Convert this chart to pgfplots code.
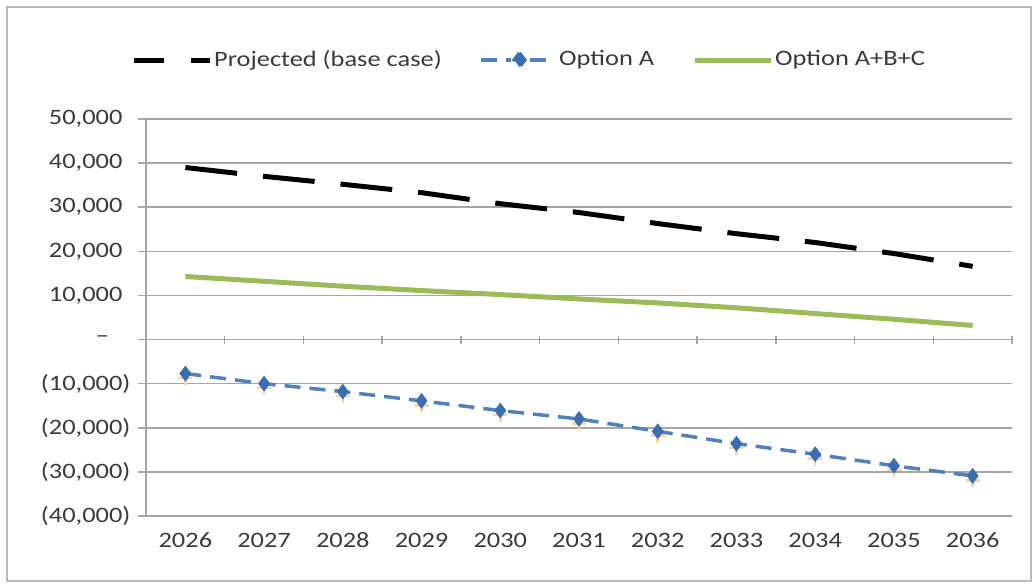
\documentclass[border=0pt]{standalone}
\usepackage{pgfplots}
\pgfplotsset{compat=1.18}
\usepackage{fontspec}
\setmainfont{Carlito}[FakeStretch=1.2]
\definecolor{gridgray}{HTML}{A6A6A6}
\definecolor{txt}{HTML}{3A3A3A}
\definecolor{optA}{HTML}{4F81BD}
\definecolor{optAdark}{HTML}{3A6EAE}
\definecolor{optC}{HTML}{9BBB59}
\definecolor{orng}{HTML}{F79646}
\begin{document}
\fontsize{22}{25}\selectfont
\begin{tikzpicture}
\path[use as bounding box] (0pt,0pt) rectangle (1034pt,584pt);
\draw[gridgray!80, line width=1.5pt] (7pt,3pt) rectangle (1031pt,577pt);
\begin{axis}[
  at={(146pt,68pt)}, anchor=south west,
  scale only axis, width=866pt, height=397pt,
  xmin=-0.5, xmax=10.5, ymin=-40000, ymax=50000,
  scaled y ticks=false,
  axis x line=middle, axis y line=left,
  axis line style={-, draw=gridgray, line width=1.5pt},
  xtick={-0.5,0.5,1.5,2.5,3.5,4.5,5.5,6.5,7.5,8.5,9.5,10.5},
  xticklabels={},
  extra x ticks={0,1,2,3,4,5,6,7,8,9,10},
  extra x tick labels={2026,2027,2028,2029,2030,2031,2032,2033,2034,2035,2036},
  extra x tick style={grid=none, major tick length=0pt},
  xticklabel style={anchor=base, yshift=-208pt},
  xtick style={draw=gridgray, line width=1.5pt},
  xtick align=center,
  ytick={-40000,-30000,-20000,-10000,0,10000,20000,30000,40000,50000},
  yticklabels={{(40,000)},{(30,000)},{(20,000)},{(10,000)},{–\hphantom{0)}},{10,000\hphantom{)}},{20,000\hphantom{)}},{30,000\hphantom{)}},{40,000\hphantom{)}},{50,000\hphantom{)}}},
  ytick align=outside,
  ytick style={draw=gridgray, line width=1.5pt},
  major tick length=8pt,
  ymajorgrids, xmajorgrids=false,
  grid style={gridgray, line width=1.5pt},
  tick label style={text=txt, font=\fontsize{22}{25}\selectfont},
  legend columns=3,
  legend style={at={(axis description cs:-0.0173,1.1486)}, anchor=west, draw=none, fill=none, inner sep=0pt,
    text=txt, font=\fontsize{22}{25}\selectfont,
    /tikz/every even column/.append style={column sep=36pt}},
  clip=false,
]
\addplot[only marks, mark=+, mark size=7pt, orng!45, line width=2.5pt, forget plot] coordinates {
(0,-8700) (1,-11000) (2,-12800) (3,-14900) (4,-17100) (5,-19000) (6,-21800) (7,-24600) (8,-27000) (9,-29600) (10,-31900)};
\addplot[black, line width=5pt, dash pattern=on 52pt off 26pt,
  legend image code/.code={\draw[black, line width=5pt] (0pt,0pt) -- (30pt,0pt) (57pt,0pt) -- (76pt,0pt);}]
  coordinates {(0,39000) (1,37000) (2,35200) (3,33300) (4,30800) (5,28800) (6,26300) (7,24000) (8,22000) (9,19500) (10,16600)};
\addlegendentry{Projected (base case)}
\addplot[optA, line width=3.5pt, dash pattern=on 16pt off 9pt, mark=diamond*, mark size=7.5pt,
  mark options={solid, fill=optAdark, draw=optAdark, line width=0.5pt},
  legend image code/.code={\draw[optA, line width=3.5pt] (0pt,0pt) -- (30pt,0pt) (49pt,0pt) -- (74pt,0pt);
    \path[mark=diamond*, mark size=7pt, mark options={fill=optAdark, draw=optAdark}] plot coordinates {(38pt,0pt)};}]
  coordinates {(0,-7700) (1,-10000) (2,-11800) (3,-13900) (4,-16100) (5,-18000) (6,-20800) (7,-23600) (8,-26000) (9,-28600) (10,-30900)};
\addlegendentry{Option A}
\addplot[optC, line width=5pt,
  legend image code/.code={\draw[optC, line width=5pt] (0pt,0pt) -- (76pt,0pt);}]
  coordinates {(0,14300) (1,13200) (2,12100) (3,11100) (4,10200) (5,9200) (6,8300) (7,7200) (8,5900) (9,4600) (10,3200)};
\addlegendentry{Option A+B+C}
\end{axis}
\end{tikzpicture}
\end{document}
